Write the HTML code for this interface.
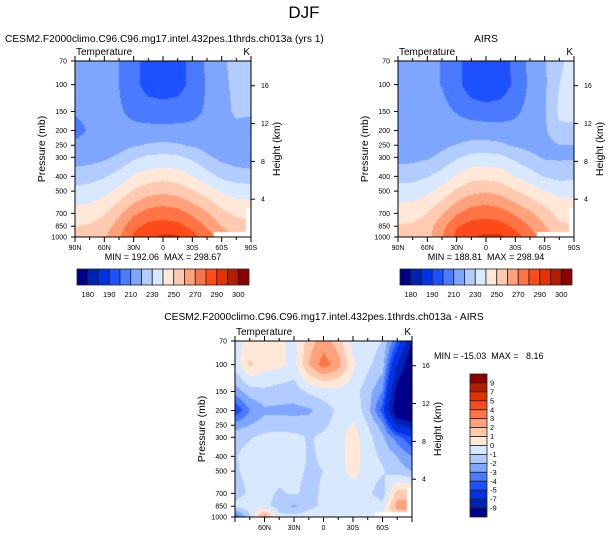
<!DOCTYPE html>
<html><head><meta charset="utf-8"><style>
html,body{margin:0;padding:0;background:#fff;}
#wrap{position:relative;width:609px;height:538px;overflow:hidden;font-family:"Liberation Sans",Arial,sans-serif;}
canvas,svg{position:absolute;left:0;top:0;}
text{white-space:pre;}
</style></head><body>
<div id="wrap">
<canvas id="cv" width="609" height="538"></canvas>
<svg id="sv" width="609" height="538" xmlns="http://www.w3.org/2000/svg"></svg>
</div>
<script>
const lats=[90,75,60,45,30,15,0,-15,-30,-45,-60,-75,-90];
const levels=[70,100,150,200,250,300,400,500,700,850,1000];
const modelT=[
[214,214,213,210,203,196,195,196,203,212,218,224,225],
[213,213,212,210,203,196,195,196,203,211,217,223,224],
[211,212,212,211,208,205,204,205,208,211,216,222,222],
[207,211,212,212,212,213,213,213,212,212,214,217,214],
[212,213,214,216,219,221,222,221,219,216,213,213,212],
[215,216,218,222,228,232,233,232,228,222,217,215,214],
[225,226,229,234,241,245,246,245,240,234,228,225,224],
[233,234,237,243,251,256,258,256,251,245,239,236,236],
[244,245,249,258,268,274,276,274,268,261,253,248,246],
[250,251,255,265,277,283,284,283,277,269,260,255,253],
[252,254,259,269,282,289,292,292,284,275,265,258,256]];
const diffT=[
[-0.5,0.4,0.5,0.3,-0.4,1.5,2.5,1.5,-0.4,-0.6,-1,-4,-9],
[-0.6,1.2,0.4,0.3,-0.4,2,3.5,2.5,0.2,-0.8,-1.5,-7,-11],
[-2.5,-1.5,-1.2,-1.5,-1.5,-0.8,-0.5,-0.4,-0.6,-1.5,-3,-10,-12],
[-5,-3,-2.2,-2.2,-2.3,-2.2,-1.5,-0.8,-0.3,-1.5,-4.5,-11,-13],
[-2.5,-2,-1.5,-1.5,-1.5,-1.5,-1.2,-0.6,0.1,-1,-2.5,-7,-8],
[-1.3,-1.1,-0.7,-0.6,-0.7,-1.1,-0.8,-0.4,0.5,-0.6,-1.8,-3.5,-5],
[-1.1,-0.6,-0.4,-0.4,-0.5,-1.1,-0.9,-0.4,0.5,-0.5,-1.2,-2,-3],
[-1.1,-0.8,-0.7,-0.7,-0.8,-1.1,-1.0,-0.5,0.4,-0.5,-0.9,-1.5,-2],
[-1.3,-0.9,-0.8,-1.1,-0.9,-1.2,-0.9,-0.7,-0.5,-0.8,-1.5,1.5,1.5],
[-0.8,-0.4,-0.8,-1.3,-2.2,-1.3,-0.8,-0.6,-0.6,-0.4,-0.6,2.5,2.5],
[-4,-1.2,3,-0.8,-0.6,-0.4,-0.4,-0.4,-0.4,-0.4,0.5,1,1]];
const tBounds=[180,185,190,200,210,220,230,240,250,260,270,280,290,295,300];
const tLabels=["180","190","210","230","250","270","290","300"];
const dBounds=[-9,-7,-5,-4,-3,-2,-1,0,1,2,3,4,5,7,9];
const pTicks=[70,100,150,200,250,300,400,500,700,850,1000];
const zTicks=[4,8,12,16];
const latTicks=[90,60,30,0,-30,-60,-90];
const latNames=["90N","60N","30N","0","30S","60S","90S"];
const palette=['#00008b','#0022b4','#0033e6','#1e50ff','#4a7aff','#7ea6ff','#b3ccff','#d8e8ff','#ffe8d8','#ffcab0','#ffa27c','#ff7444','#ff4b1a','#e53000','#b51d00','#8b0000'];
const airsT=modelT.map((r,i)=>r.map((v,j)=>v-diffT[i][j]));

const panels=[
 {L:75,T:61,W:176,H:176,data:modelT,b:tBounds,name:"model"},
 {L:398,T:61,W:176,H:176,data:airsT,b:tBounds,name:"airs"},
 {L:235,T:341,W:177,H:176,data:diffT,b:dBounds,name:"diff"}];

function xOf(P,lat){return P.L+(90-lat)/180*P.W;}
function yOf(P,p){return P.T+Math.log(p/70)/Math.log(1000/70)*P.H;}
function hex(c){return [parseInt(c.substr(1,2),16),parseInt(c.substr(3,2),16),parseInt(c.substr(5,2),16)];}
const rgb=palette.map(hex);
function interp(P,lat,p){
 let fx=(90-lat)/15; let i=Math.min(Math.floor(fx),lats.length-2); let tx=fx-i;
 const lp=Math.log(p); let k=0;
 while(k<levels.length-2&&Math.log(levels[k+1])<lp)k++;
 let ty=(lp-Math.log(levels[k]))/(Math.log(levels[k+1])-Math.log(levels[k]));
 ty=Math.max(0,Math.min(1,ty));
 const d=P.data;
 const a=d[k][i]*(1-tx)+d[k][i+1]*tx, b=d[k+1][i]*(1-tx)+d[k+1][i+1]*tx;
 return a*(1-ty)+b*ty;
}
const cv=document.getElementById('cv');const ctx=cv.getContext('2d');
ctx.fillStyle='#fff';ctx.fillRect(0,0,609,538);
const img=ctx.getImageData(0,0,609,538);
panels.forEach(P=>{
 for(let y=P.T;y<P.T+P.H;y++){
  const p=70*Math.exp((y+0.5-P.T)/P.H*Math.log(1000/70));
  for(let x=P.L;x<P.L+P.W;x++){
   const lat=90-(x+0.5-P.L)/P.W*180;
   if((lat<-52&&lat>-85&&p>930)||(lat<=-85&&p>650))continue;
   const v=interp(P,lat,p);let n=0;while(n<P.b.length&&v>=P.b[n])n++;
   const c=rgb[n];const o=(y*609+x)*4;img.data[o]=c[0];img.data[o+1]=c[1];img.data[o+2]=c[2];img.data[o+3]=255;
  }
 }
});
ctx.putImageData(img,0,0);

const NS="http://www.w3.org/2000/svg";const sv=document.getElementById('sv');
function mk(tag,at,txt){const e=document.createElementNS(NS,tag);for(const k in at)e.setAttribute(k,at[k]);if(txt!==undefined)e.textContent=txt;sv.appendChild(e);return e;}
let e;
e=mk('text',{x:304,y:18,'font-size':17,'text-anchor':'middle'},'DJF');


e=mk('text',{x:5,y:42,'font-size':10.2},'CESM2.F2000climo.C96.C96.mg17.intel.432pes.1thrds.ch013a (yrs 1)');


e=mk('text',{x:486,y:42,'font-size':10.2,'text-anchor':'middle'},'AIRS');


e=mk('text',{x:324,y:320,'font-size':10.2,'text-anchor':'middle'},'CESM2.F2000climo.C96.C96.mg17.intel.432pes.1thrds.ch013a - AIRS');



panels.forEach((P,pi)=>{
 const R=P.L+P.W,B=P.T+P.H;
 e=mk('rect',{x:P.L,y:P.T,width:P.W,height:P.H,fill:'none',stroke:'#000','stroke-width':1});
 
 
 e=mk('text',{x:P.L+1,y:P.T-6,'font-size':10},'Temperature');
 
 
 e=mk('text',{x:R-1,y:P.T-6,'font-size':10,'text-anchor':'end'},'K');
 
 
 pTicks.forEach(p=>{const y=yOf(P,p);
  e=mk('line',{x1:P.L-4,x2:P.L,y1:y,y2:y,stroke:'#000'});
  
  
  e=mk('text',{x:P.L-8,y:y+2.5,'font-size':7,'text-anchor':'end'},String(p));
  
  
 });
 zTicks.forEach(z=>{const y=yOf(P,1000*Math.exp(-z/7));
  e=mk('line',{x1:R,x2:R+4,y1:y,y2:y,stroke:'#000'});
  
  
  e=mk('text',{x:R+10,y:y+2.5,'font-size':7},String(z));
  
  
 });
 for(let lat=90;lat>=-90;lat-=15){const x=xOf(P,lat);const maj=lat%30===0;
  e=mk('line',{x1:x,x2:x,y1:B,y2:B+(maj?5:3),stroke:'#000'});
  
  
  e=mk('line',{x1:x,x2:x,y1:P.T,y2:P.T-(maj?5:3),stroke:'#000'});
  
  
 }
 latTicks.forEach((lat,i)=>{if(pi===2&&(lat===90||lat===-90))return;
  e=mk('text',{x:xOf(P,lat),y:B+13,'font-size':7,'text-anchor':'middle'},latNames[i]);
  
  
 });
 const cy=(P.T+B)/2;
 e=mk('text',{x:P.L-30,y:cy,'font-size':10.5,'text-anchor':'middle',transform:`rotate(-90 ${P.L-30} ${cy})`},'Pressure (mb)');
 
 
 e=mk('text',{x:R+29,y:cy,'font-size':10.5,'text-anchor':'middle',transform:`rotate(-90 ${R+29} ${cy})`},'Height (km)');
 
 
});
e=mk('text',{x:163,y:260,'font-size':9,'text-anchor':'middle'},'MIN = 192.06  MAX = 298.67');


e=mk('text',{x:486,y:260,'font-size':9,'text-anchor':'middle'},'MIN = 188.81  MAX = 298.94');


e=mk('text',{x:434,y:359,'font-size':9},'MIN = -15.03  MAX =   8.16');



[77,400].forEach((x0,ci)=>{
 const w=172/16;
 palette.forEach((c,i)=>{
  e=mk('rect',{x:x0+i*w,y:269,width:w,height:16,fill:c,stroke:'#222','stroke-width':0.8});
  
  
 });
 tLabels.forEach((t,i)=>{
  e=mk('text',{x:x0+(2*i+1)*w,y:297,'font-size':7.5,'text-anchor':'middle'},t);
  
  
 });
});
{const h=143/16;
 palette.slice().reverse().forEach((c,i)=>{
  e=mk('rect',{x:470,y:374+i*h,width:17,height:h,fill:c,stroke:'#222','stroke-width':0.8});
  
  
 });
 dBounds.slice().reverse().forEach((b,i)=>{
  e=mk('text',{x:490,y:374+(i+1)*h+2.5,'font-size':7.5},String(b));
  
  
 });
}
</script>
</body></html>
